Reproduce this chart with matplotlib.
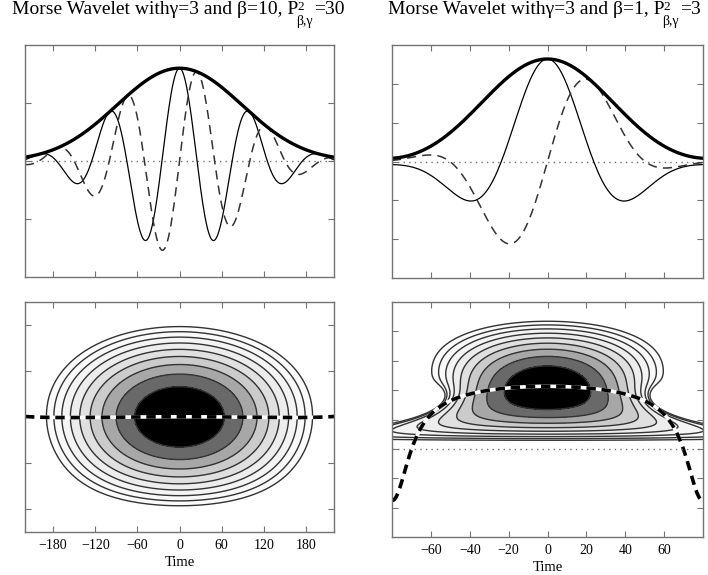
import numpy as np
import matplotlib.pyplot as plt

plt.rcParams['font.family'] = ['Liberation Serif', 'DejaVu Serif']

# wavelet parameters, as given in the panel titles
gammas = [3, 3]
betas = [10, 1]
p2_values = ['30', '3']
omega0 = 2 * np.pi / 100   # peak frequency (radians per time unit)

# axes
time_lims = [220, 80]
time_ticks = [np.arange(-180, 181, 60), np.arange(-60, 61, 20)]
top_peak = [1.6, 2.64]          # modulus at t=0 in tick units
top_ylim = [2, 3]
top_yticks = [[-1, 0, 1], [-2, -1, 0, 1, 2]]
# bottom row frequency axis, in units of omega0
freq_ylim = [(0.5, 1.5), (-1.5, 2.5)]
freq_yticks = [[0.6, 0.8, 1, 1.2, 1.4], [-1, -0.5, 0, 0.5, 1, 1.5, 2]]
n_levels = 9
level_step = 0.53

# axes boxes in pixels (left, top, right, bottom) on a 708x575 canvas
boxes = [(25, 45, 334, 277), (392, 45, 703, 278),
         (25, 302, 334, 532), (392, 302, 703, 537)]
title_centers = [178, 544]

W_PX, H_PX = 708, 575
fig = plt.figure(figsize=(W_PX / 100, H_PX / 100), dpi=100)
renderer = fig.canvas.get_renderer()


def add_ax(b):
    l, t, r, bt = b
    ax = fig.add_axes([l / W_PX, 1 - bt / H_PX, (r - l) / W_PX, (bt - t) / H_PX])
    ax.tick_params(direction='in', top=True, right=True, length=4,
                   color='0.45', labelsize=10, pad=5)
    for s in ax.spines.values():
        s.set_color('0.45')
        s.set_linewidth(1)
    return ax


def px_text(x, y, s, size):
    # text placed by pixel position (y measured from the top)
    return fig.text(x / W_PX, 1 - y / H_PX, s, fontsize=size, va='baseline')


def title(cx, i):
    head = 'Morse Wavelet with\u03b3=%d and \u03b2=%d, P' % (gammas[i], betas[i])
    tail = '=' + p2_values[i]
    parts = [px_text(0, 14, head, 14), px_text(0, 10.5, '2', 9.5),
             px_text(0, 25, '\u03b2,\u03b3', 10), px_text(0, 14, tail, 14)]
    w = [p.get_window_extent(renderer).width for p in parts]
    total = w[0] + max(w[1], w[2]) + w[3] - 2
    x = cx - total / 2
    parts[0].set_x(x / W_PX)
    parts[1].set_x((x + w[0] - 1) / W_PX)
    parts[2].set_x((x + w[0] - 2) / W_PX)
    parts[3].set_x((x + w[0] + max(w[1], w[2]) - 1) / W_PX)


def morse(beta, gamma, t):
    u = np.linspace(1e-6, 5, 2000)
    du = u[1] - u[0]
    spec = u ** beta * np.exp(-(beta / gamma) * (u ** gamma - 1))
    return np.exp(1j * omega0 * np.outer(t, u)) @ spec * du


def wigner(z, dt, idx, w):
    M = min(idx.min(), len(z) - 1 - idx.max())
    m = np.arange(-M, M + 1)
    R = z[idx[:, None] + m[None, :]] * np.conj(z[idx[:, None] - m[None, :]])
    E = np.exp(-2j * np.outer(m * dt, w))
    return (R @ E).real * 2 * dt


dt = 1.0
t_ext = np.arange(-800, 801) * dt

for i in range(2):
    z = morse(betas[i], gammas[i], t_ext)
    i0 = np.argmin(np.abs(t_ext))
    z = z / np.abs(z[i0])
    keep = np.abs(t_ext) <= time_lims[i]
    t = t_ext[keep]

    # top row: real part, imaginary part and modulus
    ax = add_ax(boxes[i])
    ax.axhline(0, color='0.45', lw=1, ls=(0, (1, 3)))
    ax.plot(t, z[keep].real * top_peak[i], color='k', lw=0.9)
    ax.plot(t, z[keep].imag * top_peak[i], color='0.2', lw=1.1, dashes=(6, 4))
    ax.plot(t, np.abs(z[keep]) * top_peak[i], color='k', lw=2.4)
    ax.set_xlim(-time_lims[i], time_lims[i])
    ax.set_ylim(-top_ylim[i], top_ylim[i])
    ax.set_xticks(time_ticks[i])
    ax.set_yticks(top_yticks[i])
    ax.set_xticklabels([])
    ax.set_yticklabels([])
    title(title_centers[i], i)

    # bottom row: Wigner distribution with the instantaneous frequency
    ax = add_ax(boxes[i + 2])
    step = 2 if i == 0 else 1
    idx = np.where(keep)[0][::step]
    yy = np.linspace(freq_ylim[i][0], freq_ylim[i][1], 220)
    W = wigner(z, dt, idx, yy * omega0).T
    wmax = W.max()
    levels = wmax * np.exp(-level_step * np.arange(n_levels, 0, -1))
    fill_levels = list(levels) + [wmax * 2]
    grays = [1 - np.exp(-level_step * k) for k in range(n_levels - 1, 0, -1)] + [0]
    ax.contourf(t_ext[idx], yy, W, levels=fill_levels,
                colors=[str(g) for g in grays])
    ax.contour(t_ext[idx], yy, W, levels=levels, colors='0.2', linewidths=1.0)
    inst = np.gradient(np.unwrap(np.angle(z)), dt) / omega0
    ax.plot(t, inst[keep], color='white', lw=2.6)
    ax.plot(t, inst[keep], color='k', lw=2.6, dashes=(2.6, 1.6))
    if i == 1:
        ax.axhline(0, color='0.45', lw=1, ls=(0, (1, 3)))
    ax.set_xlim(-time_lims[i], time_lims[i])
    ax.set_ylim(*freq_ylim[i])
    ax.set_xticks(time_ticks[i])
    ax.set_yticks(freq_yticks[i])
    ax.set_yticklabels([])
    ax.set_xticklabels([str(v).replace('-', '\u2212') for v in time_ticks[i]])
    ax.set_xlabel('Time', fontsize=10.5, labelpad=3)

fig.savefig('out.png', dpi=100)
